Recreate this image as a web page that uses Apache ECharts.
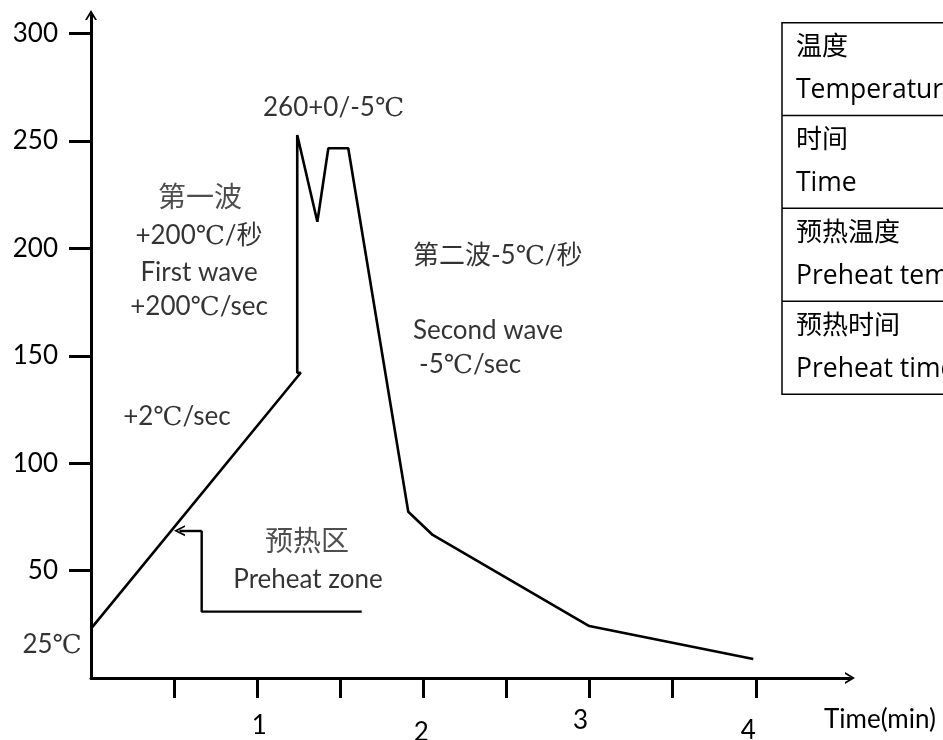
<!DOCTYPE html>
<html><head><meta charset="utf-8">
<script src="https://cdn.jsdelivr.net/npm/echarts@6/dist/echarts.min.js"></script>
<style>html,body{margin:0;padding:0;background:#fff}#c{width:943px;height:740px}</style>
</head><body><div id="c"></div>
<script>
// ---- data (time in minutes, temperature in °C) ----
const timeMin = [0, 1.262, 1.241, 1.241, 1.362, 1.428, 1.548, 1.909, 2.056, 2.998, 3.985];
const tempC   = [23, 142.1, 142.1, 252.8, 212.4, 246.6, 246.6, 77.4, 66.6, 24.2, 8.8];
// preheat zone bracket (ends with an arrow pointing at the curve)
const preheatT = [1.629, 0.666, 0.666];
const preheatV = [30.9, 30.9, 68.6];
const preheatArrowT = [0.666, 0.532];
const preheatArrowV = [68.6, 68.6];
// axis ticks / labels
const yTickValues = [50, 100, 150, 200, 250, 300];
const xTickValues = [0.5, 1, 1.5, 2, 2.5, 3, 3.5, 4];
const xLabelValues = [1, 2, 3, 4];
// annotations (anchor in data units)
const noteText = ['260+0/-5℃', '第一波', '+200℃/秒', 'First wave', '+200℃/sec', '+2℃/sec',
                  '第二波-5℃/秒', 'Second wave', '-5℃/sec', '预热区', 'Preheat zone', '25℃'];
const noteT = [1.035, 0.656, 0.650, 0.650, 0.650, 0.517, 1.937, 1.937, 1.974, 1.300, 1.306, -0.056];
const noteV = [265.4, 223.5, 205.8, 188.5, 172.7, 121.5, 196.5, 161.5, 145.7, 63.3, 45.6, 15.4];
// legend table (cropped at right edge)
const tableRows = [['温度', 'Temperature'], ['时间', 'Time'], ['预热温度', 'Preheat temperature'], ['预热时间', 'Preheat time']];

const LATIN = 'Lato, "DejaVu Serif", "Noto Sans CJK SC", sans-serif';
const TABLEF = '"Open Sans", "Noto Sans CJK SC", sans-serif';
const chevron = 'path://M0,10 L6,0 L12,10 L10,10 L6,3.4 L2,10 Z';

const noteAlign = ['left','center','center','center','center','center','left','left','left','center','center','right'];

const chart = echarts.init(document.getElementById('c'), null, {renderer: 'canvas'});

const notesData = noteText.map((s, i) => {
  const pureCJK = /^[\u4e00-\u9fff]+$/.test(s);
  return {
    value: [noteT[i], noteV[i]],
    name: s,
    label: {
      show: true, position: [0, 0], align: noteAlign[i], verticalAlign: 'middle',
      formatter: s, fontFamily: LATIN, fontSize: pureCJK ? 28 : 26,
      color: pureCJK ? '#222' : '#000'
    }
  };
});

const graphics = [];
const rowTop = [22.7, 115.5, 208.3, 301.2];
graphics.push({type: 'rect', shape: {x: 782, y: 22.7, width: 200, height: 371.5},
  style: {fill: 'none', stroke: '#000', lineWidth: 1.5}, silent: true});
for (let i = 1; i < rowTop.length; i++) {
  graphics.push({type: 'line', shape: {x1: 782, y1: rowTop[i], x2: 982, y2: rowTop[i]},
    style: {stroke: '#000', lineWidth: 1.5}, silent: true});
}
tableRows.forEach((r, i) => {
  graphics.push({type: 'text', x: 796, y: rowTop[i] + 25,
    style: {text: r[0], font: '26px ' + TABLEF, fill: '#000', verticalAlign: 'middle'}});
  graphics.push({type: 'text', x: 796, y: rowTop[i] + 68,
    style: {text: r[1], font: '26.5px ' + TABLEF, fill: '#000', verticalAlign: 'middle'}});
});

const xLabelRich = {
  l1: {fontSize: 26, fontFamily: LATIN, color: '#000', padding: [5, 0, 0, 4]},
  l2: {fontSize: 26, fontFamily: LATIN, color: '#000', padding: [12, 4, 0, 0]},
  l3: {fontSize: 26, fontFamily: LATIN, color: '#000', padding: [0, 18, 0, 0]},
  l4: {fontSize: 26, fontFamily: LATIN, color: '#000', padding: [10, 15, 0, 0]}
};

chart.setOption({
  animation: false,
  backgroundColor: '#fff',
  grid: {left: 91, right: 93, top: 15, bottom: 62, containLabel: false, outerBoundsMode: 'none'},
  xAxis: {
    type: 'value', min: 0, max: 4.567,
    splitLine: {show: false},
    axisLine: {show: true, lineStyle: {color: '#000', width: 3}, symbol: ['none', chevron], symbolSize: [12, 10]},
    axisTick: {show: true, length: 20, lineStyle: {color: '#000', width: 3}, customValues: xTickValues},
    axisLabel: {show: true, margin: 30, customValues: xLabelValues,
      formatter: v => '{l' + Math.round(v) + '|' + Math.round(v) + '}', rich: xLabelRich},
    name: 'Time(min)', nameLocation: 'end', nameGap: -26,
    nameTextStyle: {fontFamily: LATIN, fontSize: 26, color: '#000', align: 'left', verticalAlign: 'top', padding: [29, 0, 0, 0]}
  },
  yAxis: {
    type: 'value', min: 0, max: 308.66,
    splitLine: {show: false},
    axisLine: {show: true, lineStyle: {color: '#000', width: 3}, symbol: ['none', chevron], symbolSize: [12, 10]},
    axisTick: {show: true, length: 22, lineStyle: {color: '#000', width: 3}, customValues: yTickValues},
    axisLabel: {show: true, margin: 33, customValues: yTickValues, fontFamily: LATIN, fontSize: 26, color: '#000'}
  },
  graphic: graphics,
  series: [
    {
      name: 'profile', type: 'line', data: timeMin.map((t, i) => [t, tempC[i]]),
      showSymbol: false, symbol: 'none', lineStyle: {color: '#000', width: 2.6}, silent: true, clip: false
    },
    {
      name: 'preheat', type: 'line', data: preheatT.map((t, i) => [t, preheatV[i]]),
      showSymbol: false, symbol: 'none', lineStyle: {color: '#000', width: 2.4}, silent: true,
      markLine: {
        silent: true, symbol: ['none', chevron], symbolSize: 11,
        label: {show: false}, lineStyle: {color: '#000', width: 2.4, type: 'solid'},
        data: [[{coord: [preheatArrowT[0], preheatArrowV[0]]}, {coord: [preheatArrowT[1], preheatArrowV[1]]}]]
      }
    },
    {
      name: 'notes', type: 'scatter', symbolSize: 0, clip: false, silent: true, data: notesData
    }
  ]
});
</script></body></html>
